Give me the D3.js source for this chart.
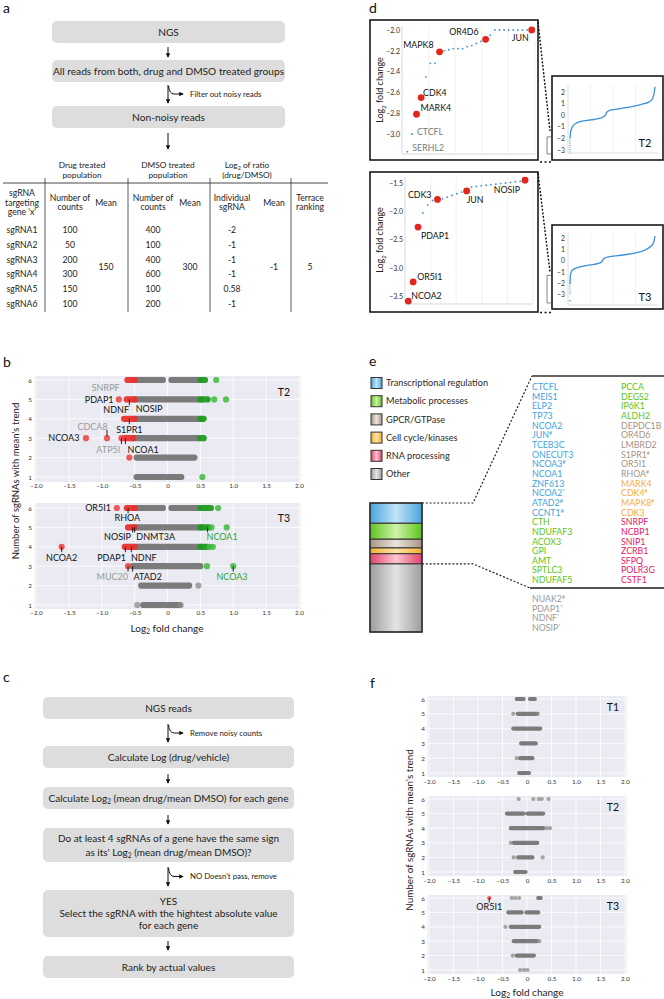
<!DOCTYPE html>
<html><head><meta charset="utf-8">
<script src="https://cdn.jsdelivr.net/npm/d3@7/dist/d3.min.js"></script>
<style>html,body{margin:0;padding:0;background:#fff;}svg{display:block;}</style>
</head><body>
<svg id="fig" width="664" height="999"></svg>
<script>
// ===================== DATA =====================
// ---- panel a ----
const aFlowSteps = ["NGS", "All reads from both, drug and DMSO treated groups", "Non-noisy reads"];
const aFilterNote = "Filter out noisy reads";
const aGroupHeaders = [["Drug treated", "population"], ["DMSO treated", "population"], ["Log_2 of ratio", "(drug/DMSO)"]];
const aColHeaders = [["sgRNA", "targeting", "gene 'x'"], ["Number of", "counts"], ["Mean"], ["Number of", "counts"], ["Mean"], ["Individual", "sgRNA"], ["Mean"], ["Terrace", "ranking"]];
const aSgRNAs = ["sgRNA1", "sgRNA2", "sgRNA3", "sgRNA4", "sgRNA5", "sgRNA6"];
const aDrugCounts = [100, 50, 200, 300, 150, 100];
const aDmsoCounts = [400, 100, 400, 600, 100, 200];
const aLog2Individual = [-2, -1, -1, -1, 0.58, -1];
const aDrugMean = 150, aDmsoMean = 300, aLog2Mean = -1, aTerraceRank = 5;

// ---- panel b (rows = number of sgRNAs with mean's trend; runs = [row, from, to]; dots = [row, value]) ----
const stripXTicks = [-2, -1.5, -1, -0.5, 0, 0.5, 1, 1.5, 2];
const stripRows = [1, 2, 3, 4, 5, 6];
const bT2GrayRuns = [[6, -0.5, -0.07], [6, 0.06, 0.48], [5, -0.5, 0.5], [4, -0.5, 0.5], [3, -0.52, 0.46], [2, -0.47, 0.41], [1, -0.47, 0.21]];
const bT2RedRuns = [[6, -0.61, -0.5], [5, -0.62, -0.5], [4, -0.66, -0.5], [3, -0.65, -0.52]];
const bT2GreenRuns = [[6, 0.5, 0.57], [5, 0.5, 0.61], [4, 0.5, 0.55], [3, 0.5, 0.55]];
const bT2RedDots = [[5, -0.74], [3, -1.24], [3, -0.92], [3, -0.7], [2, -0.58]];
const bT2GreenDots = [[6, 0.74], [5, 0.71], [5, 0.89], [1, 0.53]];
const bT2GrayDots = [];
const bT2Genes = ["SNRPF", "PDAP1", "NDNF", "NOSIP", "S1PR1", "CDCA8", "NCOA3", "ATP5I", "NCOA1"];

const bT3GrayRuns = [[6, -0.5, -0.07], [6, 0.06, 0.48], [5, -0.5, 0.5], [4, -0.5, 0.5], [3, -0.53, 0.5], [2, -0.4, 0.33], [1, -0.37, 0.18]];
const bT3RedRuns = [[6, -0.62, -0.5], [5, -0.6, -0.5], [4, -0.65, -0.5]];
const bT3GreenRuns = [[6, 0.5, 0.66], [5, 0.5, 0.62], [4, 0.5, 0.6]];
const bT3RedDots = [[6, -0.77], [4, -1.61], [3, -0.6]];
const bT3GreenDots = [[6, 0.77], [5, 0.67], [5, 0.9], [4, 0.64], [4, 0.69], [3, 0.6], [3, 1.0]];
const bT3GrayDots = [[2, 0.47], [1, -0.46], [1, 0.2]];
const bT3Genes = ["OR5I1", "RHOA", "NOSIP", "DNMT3A", "NCOA1", "NCOA2", "PDAP1", "NDNF", "MUC20", "ATAD2", "NCOA3"];

// ---- panel c ----
const cFlowSteps = [["NGS reads"], ["Calculate Log (drug/vehicle)"], ["Calculate Log_2 (mean drug/mean DMSO) for each gene"],
  ["Do at least 4 sgRNAs of a gene have the same sign", "as its' Log_2 (mean drug/mean DMSO)?"],
  ["YES", "Select the sgRNA with the hightest absolute value", "for each gene"], ["Rank by actual values"]];
const cSideNotes = ["Remove noisy counts", "NO Doesn't pass, remove"];

// ---- panel d (ranked log2 fold change, lowest genes) ----
const dT2Values = [-3.17, -3.0, -2.81, -2.65, -2.45, -2.32, -2.32, -2.21, -2.2, -2.19, -2.18, -2.18, -2.18, -2.16, -2.15, -2.13, -2.11, -2.09, -2.05, -2.0, -2.0, -2.0, -2.0, -2.0, -2.0, -2.0, -2.0, -2.0];
const dT2LabelIdx = [0, 1, 2, 3, 7, 17, 27];
const dT2LabelNames = ["SERHL2", "CTCFL", "MARK4", "CDK4", "MAPK8", "OR4D6", "JUN"];
const dT2Highlight = [2, 3, 7, 17, 27];
const dT2Ticks = [-2.0, -2.2, -2.4, -2.6, -2.8, -3.0];

const dT3Values = [-3.59, -3.25, -2.28, -2.03, -1.89, -1.81, -1.79, -1.78, -1.75, -1.72, -1.69, -1.66, -1.64, -1.57, -1.56, -1.55, -1.54, -1.53, -1.52, -1.51, -1.5, -1.49, -1.48, -1.47, -1.45];
const dT3LabelIdx = [0, 1, 2, 6, 12, 24];
const dT3LabelNames = ["NCOA2", "OR5I1", "PDAP1", "CDK3", "JUN", "NOSIP"];
const dT3Highlight = [0, 1, 2, 6, 12, 24];
const dT3Ticks = [-1.5, -2.0, -2.5, -3.0, -3.5];

// inset whole-library curves: [rank fraction, log2 fold change]
const dInsetTicks = [2, 1, 0, -1, -2, -3];
const dT2Curve = [[0, -2.0], [0.008, -1.44], [0.032, -0.95], [0.08, -0.66], [0.159, -0.49], [0.278, -0.37], [0.377, -0.2], [0.417, 0.0], [0.437, 0.29], [0.476, 0.43], [0.595, 0.57], [0.714, 0.72], [0.833, 0.92], [0.932, 1.15], [0.972, 1.44], [0.992, 2.0], [1.0, 2.44]];
const dT2Tail = [[0, -3.3], [0, -2.0]];
const dT3Curve = [[0, -2.1], [0.005, -1.28], [0.027, -0.83], [0.098, -0.59], [0.235, -0.38], [0.333, -0.24], [0.373, -0.09], [0.4, 0.21], [0.47, 0.36], [0.627, 0.51], [0.785, 0.71], [0.92, 1.11], [0.98, 1.55], [1.0, 2.2]];
const dT3Tail = [[0, -3.0], [0, -2.1]];
const dT3TailDot = [[0, -3.57]];

// ---- panel e ----
const eCategories = ["Transcriptional regulation", "Metabolic processes", "GPCR/GTPase", "Cell cycle/kinases", "RNA processing", "Other"];
const eTranscriptional = ["CTCFL", "MEIS1", "ELP2", "TP73", "NCOA2", "JUN#", "TCEB3C", "ONECUT3", "NCOA3#", "NCOA1", "ZNF613", "NCOA2*", "ATAD2#", "CCNT1#"];
const eMetabolic = ["CTH", "NDUFAF3", "ACOX3", "GPI", "AMT", "SPTLC3", "NDUFAF5", "PCCA", "DEGS2", "IP6K1", "ALDH2"];
const eGpcr = ["DEPDC1B", "OR4D6", "LMBRD2", "S1PR1#", "OR5I1", "RHOA#"];
const eCellCycle = ["MARK4", "CDK4#", "MAPK8#", "CDK3"];
const eRna = ["SNRPF", "NCBP1", "SNIP1", "ZCRB1", "SFPQ", "POLR3G", "CSTF1"];
const eOtherShown = ["NUAK2#", "PDAP1*", "NDNF*", "NOSIP*"];
const eOtherCount = 47;

// ---- panel f ----
const fT1Runs = [[6, -0.21, -0.07], [6, 0.06, 0.16], [5, -0.19, 0.2], [4, -0.28, 0.27], [3, -0.12, 0.18], [2, -0.14, 0.11], [1, -0.16, 0.04]];
const fT1Dots = [[5, -0.28], [5, 0.22], [2, -0.21]];
const fT2Runs = [[5, -0.41, -0.07], [5, 0.01, 0.33], [4, -0.33, 0.33], [3, -0.27, 0.21], [2, -0.18, 0.11], [1, -0.24, -0.03]];
const fT2Dots = [[6, -0.17], [6, 0.13], [6, 0.24], [6, 0.3], [6, 0.44], [4, 0.4], [4, 0.47], [3, -0.33], [2, -0.27], [2, 0.32]];
const fT3Runs = [[6, 0.23, 0.28], [5, -0.38, -0.11], [5, -0.01, 0.23], [4, -0.33, 0.25], [3, -0.27, 0.2], [2, -0.21, 0.14]];
const fT3Dots = [[6, -0.31], [6, -0.24], [6, -0.16], [4, -0.44], [3, 0.25], [2, -0.29], [1, -0.14], [1, -0.06], [1, 0.01]];
const fT3RedDots = [[6, -0.77]];

// ===================== DRAWING =====================
const FONT = "Lato, 'Open Sans', 'DejaVu Sans', sans-serif";
const svg = d3.select('#fig').attr('font-family', FONT);
const defs = svg.append('defs');
defs.append('marker').attr('id', 'arr').attr('viewBox', '0 0 6 6').attr('refX', 5).attr('refY', 3)
  .attr('markerWidth', 4.5).attr('markerHeight', 4.5).attr('markerUnits', 'userSpaceOnUse').attr('orient', 'auto')
  .append('path').attr('d', 'M0,0 L6,3 L0,6 Z').attr('fill', '#111');

const fmtTick = d => d === 0 ? "0" : d3.format(".1f")(d);

function richText(t, str, fs) {
  const parts = str.split('_2');
  t.append('tspan').text(parts[0]);
  for (let i = 1; i < parts.length; i++) {
    t.append('tspan').attr('dy', fs * 0.28).attr('font-size', fs * 0.66).text('2');
    t.append('tspan').attr('dy', -fs * 0.28).text(parts[i]);
  }
}
function txt(parent, x, y, str, o = {}) {
  const fs = o.fs || 8.5;
  const t = parent.append('text').attr('x', x).attr('y', y + fs * 0.35)
    .attr('text-anchor', o.anchor || 'middle').attr('font-size', fs).attr('fill', o.fill || '#222');
  richText(t, str, fs);
  if (o.rotate) t.attr('transform', `rotate(${o.rotate},${x},${y})`);
  return t;
}
function panelLabel(x, y, s) {
  svg.append('text').attr('x', x).attr('y', y).attr('font-size', 14).attr('fill', '#111').text(s);
}
function arrowDown(g, x, y1, y2) {
  g.append('line').attr('x1', x).attr('x2', x).attr('y1', y1).attr('y2', y2)
    .attr('stroke', '#111').attr('stroke-width', 1).attr('marker-end', 'url(#arr)');
}
function branchArrow(g, x, y1, y2, note, noteX) {
  arrowDown(g, x, y1, y2);
  const yh = y1 + (y2 - y1) * 0.5;
  g.append('path').attr('d', `M${x + 0.5},${y1 + 1} Q${x + 1.5},${yh} ${x + 6},${yh} L${x + 15},${yh}`)
    .attr('fill', 'none').attr('stroke', '#111').attr('stroke-width', 1).attr('marker-end', 'url(#arr)');
  txt(g, noteX, yh, note, { anchor: 'start', fs: 7.8 });
}
function flowBox(g, x0, x1, top, h, lines, fs, lh) {
  g.append('rect').attr('x', x0).attr('y', top).attr('width', x1 - x0).attr('height', h).attr('rx', 5).attr('fill', '#dddddd');
  const cy = top + h / 2;
  lines.forEach((l, i) => txt(g, (x0 + x1) / 2, cy + (i - (lines.length - 1) / 2) * lh, l, { fs: fs }));
}

// ---------- panel a ----------
panelLabel(3, 13, 'a');
{
  const g = svg.append('g');
  const tops = [21, 60, 106];
  aFlowSteps.forEach((s, i) => flowBox(g, 52, 285, tops[i], 22, [s], 10.2, 13));
  arrowDown(g, 168, 47, 57);
  branchArrow(g, 168, 85, 103, aFilterNote, 190);
  arrowDown(g, 168, 133, 149);

  // table
  const colX = [22, 70, 106, 153, 190, 232, 274, 310];
  const groupX = [82, 168, 247];
  const rowY = d3.scalePoint().domain(aSgRNAs).range([230, 304]);
  const fs = 8.6;
  aGroupHeaders.forEach((h, i) => h.forEach((l, j) => txt(g, groupX[i], 165 + j * 10.5, l, { fs: 8.3 })));
  g.append('line').attr('x1', 3).attr('x2', 328).attr('y1', 183).attr('y2', 183).attr('stroke', '#333').attr('stroke-width', 0.9);
  [45, 128, 210, 291].forEach(x => g.append('line').attr('x1', x).attr('x2', x).attr('y1', 178).attr('y2', 312).attr('stroke', '#333').attr('stroke-width', 0.8));
  aColHeaders.forEach((h, i) => {
    const c = 202.5;
    h.forEach((l, j) => txt(g, colX[i], c + (j - (h.length - 1) / 2) * 9.5, l, { fs }));
  });
  aSgRNAs.forEach((s, i) => {
    const y = rowY(s);
    txt(g, colX[0], y, s, { fs });
    txt(g, colX[1], y, String(aDrugCounts[i]), { fs });
    txt(g, colX[3], y, String(aDmsoCounts[i]), { fs });
    txt(g, colX[5], y, String(aLog2Individual[i]), { fs });
  });
  const midY = (rowY(aSgRNAs[2]) + rowY(aSgRNAs[3])) / 2;
  txt(g, colX[2], midY, String(aDrugMean), { fs });
  txt(g, colX[4], midY, String(aDmsoMean), { fs });
  txt(g, colX[6], midY, String(aLog2Mean), { fs });
  txt(g, colX[7], midY, String(aTerraceRank), { fs });
}

// ---------- strip plots (b, f) ----------
function strip(cfg, d) {
  const g = svg.append('g');
  const x = d3.scaleLinear().domain([-2, 2]).range([cfg.xL, cfg.xR]);
  const y = d3.scaleLinear().domain([1, 6]).range([cfg.y1, cfg.y6]);
  g.append('rect').attr('x', cfg.xL - 1.5).attr('y', cfg.top).attr('width', cfg.xR - cfg.xL + 3).attr('height', cfg.bottom - cfg.top).attr('fill', '#eaeaf2');
  g.append('g').selectAll('line').data(stripXTicks).join('line').attr('x1', v => x(v)).attr('x2', v => x(v))
    .attr('y1', cfg.top).attr('y2', cfg.bottom).attr('stroke', '#fff').attr('stroke-width', 0.8);
  g.append('g').selectAll('line').data(stripRows).join('line').attr('y1', v => y(v)).attr('y2', v => y(v))
    .attr('x1', cfg.xL - 1.5).attr('x2', cfg.xR + 1.5).attr('stroke', '#fff').attr('stroke-width', 0.8);
  const ax = g.append('g').attr('transform', `translate(0,${cfg.bottom})`)
    .call(d3.axisBottom(x).tickValues(stripXTicks).tickSize(0).tickPadding(cfg.xpad).tickFormat(fmtTick));
  ax.select('.domain').remove();
  ax.attr('font-family', FONT).attr('font-size', cfg.tfs);
  ax.selectAll('text').attr('fill', '#333');
  const ay = g.append('g').attr('transform', `translate(${cfg.xL - 1.5},0)`)
    .call(d3.axisLeft(y).tickValues(stripRows).tickSize(0).tickPadding(2.5).tickFormat(d3.format('d')));
  ay.select('.domain').remove();
  ay.attr('font-family', FONT).attr('font-size', cfg.tfs);
  ay.selectAll('text').attr('fill', '#333');
  const runs = (arr, col, op) => g.append('g').selectAll('line').data(arr).join('line')
    .attr('x1', r => x(r[1])).attr('x2', r => x(r[2])).attr('y1', r => y(r[0])).attr('y2', r => y(r[0]))
    .attr('stroke', col).attr('stroke-opacity', op).attr('stroke-width', cfg.rw).attr('stroke-linecap', 'round');
  const dots = (arr, col, op) => g.append('g').selectAll('circle').data(arr).join('circle')
    .attr('cx', p => x(p[1])).attr('cy', p => y(p[0])).attr('r', cfg.dr).attr('fill', col).attr('fill-opacity', op);
  runs(d.grayRuns || [], '#7b7b7b', 1);
  dots(d.grayDots || [], '#8a8a8a', 0.75);
  runs(d.redRuns || [], '#e8302c', 0.95);
  runs(d.greenRuns || [], '#1f9b1f', 0.95);
  dots(d.redDots || [], '#f03c3c', 0.85);
  dots(d.greenDots || [], '#3dbb3d', 0.85);
  txt(g, cfg.tX, cfg.tY, cfg.title, { fs: cfg.titleFs, fill: '#111' });
  return { g, x, y };
}
function annotate(p, labels, pointers, fs) {
  pointers.forEach(q => p.g.append('line').attr('x1', p.x(q[0])).attr('x2', p.x(q[0])).attr('y1', p.y(q[1])).attr('y2', p.y(q[2]))
    .attr('stroke', '#111').attr('stroke-width', 0.9));
  labels.forEach(l => txt(p.g, p.x(l.v), p.y(l.r), l.t, { fs: fs, fill: l.c || '#111', anchor: l.a || 'middle' }));
}

panelLabel(3, 367, 'b');
const GRAYT = '#9a9a9a', GREENT = '#2ea52e';
{
  const p2 = strip({ xL: 36, xR: 299, top: 376, bottom: 482, y1: 477, y6: 380, xpad: 2, tfs: 6.3, rw: 6.2, dr: 3.1, title: 'T2', tX: 284, tY: 392, titleFs: 10.5 },
    { grayRuns: bT2GrayRuns, redRuns: bT2RedRuns, greenRuns: bT2GreenRuns, redDots: bT2RedDots, greenDots: bT2GreenDots, grayDots: bT2GrayDots });
  annotate(p2, [
    { t: bT2Genes[0], v: -0.94, r: 5.59, c: GRAYT },
    { t: bT2Genes[1], v: -0.82, r: 5.0, a: 'end' },
    { t: bT2Genes[2], v: -0.78, r: 4.45 },
    { t: bT2Genes[3], v: -0.28, r: 4.53 },
    { t: bT2Genes[4], v: -0.58, r: 3.45 },
    { t: bT2Genes[5], v: -1.14, r: 3.6, c: GRAYT },
    { t: bT2Genes[6], v: -1.34, r: 3.0, a: 'end' },
    { t: bT2Genes[7], v: -0.9, r: 2.4, c: GRAYT },
    { t: bT2Genes[8], v: -0.37, r: 2.4 }
  ], [[-0.58, 5, 4.7], [-0.58, 4, 3.72], [-0.92, 3.42, 3.1], [-0.7, 3, 2.7], [-0.64, 3, 2.7]], 9);

  const p3 = strip({ xL: 36, xR: 299, top: 503, bottom: 609, y1: 605, y6: 508, xpad: 2, tfs: 6.3, rw: 6.2, dr: 3.1, title: 'T3', tX: 284, tY: 518, titleFs: 10.5 },
    { grayRuns: bT3GrayRuns, redRuns: bT3RedRuns, greenRuns: bT3GreenRuns, redDots: bT3RedDots, greenDots: bT3GreenDots, grayDots: bT3GrayDots });
  annotate(p3, [
    { t: bT3Genes[0], v: -0.86, r: 6, a: 'end' },
    { t: bT3Genes[1], v: -0.61, r: 5.48 },
    { t: bT3Genes[2], v: -0.76, r: 4.5 },
    { t: bT3Genes[3], v: -0.18, r: 4.5 },
    { t: bT3Genes[4], v: 0.83, r: 4.5, c: GREENT },
    { t: bT3Genes[5], v: -1.61, r: 3.42 },
    { t: bT3Genes[6], v: -0.85, r: 3.42 },
    { t: bT3Genes[7], v: -0.36, r: 3.42 },
    { t: bT3Genes[8], v: -0.84, r: 2.45, c: GRAYT },
    { t: bT3Genes[9], v: -0.3, r: 2.45 },
    { t: bT3Genes[10], v: 0.98, r: 2.45, c: GREENT }
  ], [[-0.6, 6, 5.72], [-0.53, 5, 4.74], [-0.5, 5, 4.74], [0.61, 5, 4.74], [-1.61, 4, 3.72], [-0.64, 4, 3.72], [-0.55, 4, 3.72], [-0.6, 3, 2.72], [-0.53, 3, 2.72], [1.0, 3, 2.72]], 9);
  txt(svg, 167, 628, 'Log_2 fold change', { fs: 10 });
  txt(svg, 16, 481, "Number of sgRNAs with mean's trend", { fs: 9.5, rotate: -90 });
}

// ---------- panel c ----------
panelLabel(3, 682, 'c');
{
  const g = svg.append('g');
  const tops = [697, 746, 787, 828, 890, 956];
  const hs = [22, 22, 22, 34, 47, 22];
  const lhs = [13, 13, 13, 14, 12, 13];
  cFlowSteps.forEach((s, i) => flowBox(g, 43, 294, tops[i], hs[i], s, 10, lhs[i]));
  branchArrow(g, 168, 724, 742, cSideNotes[0], 190);
  arrowDown(g, 168, 774, 783);
  arrowDown(g, 168, 815, 824);
  branchArrow(g, 168, 867, 886, cSideNotes[1], 190);
  arrowDown(g, 168, 941, 950);
}

// ---------- panel d ----------
panelLabel(369, 13, 'd');
function rankPanel(cfg) {
  const g = svg.append('g');
  g.append('rect').attr('x', cfg.box[0]).attr('y', cfg.box[1]).attr('width', cfg.box[2] - cfg.box[0]).attr('height', cfg.box[3] - cfg.box[1])
    .attr('fill', '#fff').attr('stroke', '#1a1a1a').attr('stroke-width', 1.6);
  const x = d3.scaleLinear().domain([0, cfg.values.length - 1]).range(cfg.xr);
  const y = d3.scaleLinear().domain(cfg.yDom).range(cfg.yr);
  const [px0, px1, py0, py1] = cfg.plot;
  g.append('g').selectAll('line').data(d3.range(1, 6)).join('line')
    .attr('x1', i => px0 + i * (px1 - px0) / 5).attr('x2', i => px0 + i * (px1 - px0) / 5).attr('y1', py0).attr('y2', py1)
    .attr('stroke', '#eeeeee').attr('stroke-width', 0.8);
  g.append('line').attr('x1', px0).attr('x2', px0).attr('y1', py0).attr('y2', py1).attr('stroke', '#cfcfcf').attr('stroke-width', 0.8);
  g.append('line').attr('x1', px0).attr('x2', px1).attr('y1', py1).attr('y2', py1).attr('stroke', '#cfcfcf').attr('stroke-width', 0.8);
  const ay = g.append('g').attr('transform', `translate(${px0},0)`)
    .call(d3.axisLeft(y).tickValues(cfg.ticks).tickSize(0).tickPadding(2).tickFormat(d3.format('.1f')));
  ay.select('.domain').remove();
  ay.attr('font-family', FONT).attr('font-size', 7);
  ay.selectAll('text').attr('fill', '#333');
  const pts = cfg.values.map((v, i) => ({ i, v, hi: cfg.highlight.includes(i) }));
  g.append('g').selectAll('circle').data(pts.filter(p => !p.hi)).join('circle')
    .attr('cx', p => x(p.i)).attr('cy', p => y(p.v)).attr('r', 0.9).attr('fill', '#3a8fd8');
  g.append('g').selectAll('circle').data(pts.filter(p => p.hi)).join('circle')
    .attr('cx', p => x(p.i)).attr('cy', p => y(p.v)).attr('r', 3.4).attr('fill', '#e1261c');
  cfg.labelIdx.forEach((idx, k) => {
    const L = cfg.labelLayout[k];
    txt(g, x(idx) + L[0], y(cfg.values[idx]) + L[1], cfg.labelNames[k], { fs: 8.8, anchor: L[2], fill: L[3] || '#111' });
  });
  txt(g, 380, cfg.titleY, 'Log_2 fold change', { fs: 9, rotate: -90 });
  return { x, y };
}
function insetPanel(cfg) {
  const g = svg.append('g');
  g.append('rect').attr('x', cfg.box[0]).attr('y', cfg.box[1]).attr('width', cfg.box[2] - cfg.box[0]).attr('height', cfg.box[3] - cfg.box[1])
    .attr('fill', '#fff').attr('stroke', '#1a1a1a').attr('stroke-width', 1.6);
  const x = d3.scaleLinear().domain([0, 1]).range([570, 655]);
  const y = d3.scaleLinear().domain([-3, 2]).range(cfg.yr);
  const [px0, px1, py0, py1] = cfg.plot;
  g.append('g').selectAll('line').data(d3.range(1, 4)).join('line')
    .attr('x1', i => px0 + i * (px1 - px0) / 4).attr('x2', i => px0 + i * (px1 - px0) / 4).attr('y1', py0).attr('y2', py1)
    .attr('stroke', '#efefef').attr('stroke-width', 0.8);
  g.append('line').attr('x1', px0).attr('x2', px0).attr('y1', py0).attr('y2', py1).attr('stroke', '#d5d5d5').attr('stroke-width', 0.8);
  g.append('line').attr('x1', px0).attr('x2', px1).attr('y1', py1).attr('y2', py1).attr('stroke', '#d5d5d5').attr('stroke-width', 0.8);
  const ay = g.append('g').attr('transform', `translate(${px0},0)`)
    .call(d3.axisLeft(y).tickValues(dInsetTicks).tickSize(0).tickPadding(3).tickFormat(d3.format('d')));
  ay.select('.domain').remove();
  ay.attr('font-family', FONT).attr('font-size', 6.8);
  ay.selectAll('text').attr('fill', '#333');
  const line = d3.line().x(p => x(p[0])).y(p => y(p[1]));
  g.append('path').attr('d', line.curve(d3.curveMonotoneX)(cfg.curve)).attr('fill', 'none').attr('stroke', '#3a8fd8').attr('stroke-width', 1.3);
  g.append('path').attr('d', d3.line().x(p => x(p[0])).y(p => y(p[1]))(cfg.tail)).attr('fill', 'none').attr('stroke', '#3a8fd8')
    .attr('stroke-width', 1.1).attr('stroke-dasharray', '0.8,1.1');
  (cfg.tailDots || []).forEach(p => g.append('circle').attr('cx', x(p[0])).attr('cy', y(p[1])).attr('r', 0.8).attr('fill', '#3a8fd8'));
  const ext = d3.extent(cfg.zoomValues);
  const b0 = y(ext[1]) - 1.5, b1 = y(ext[0]) + 2;
  g.append('path').attr('d', `M551,${b0} L547,${b0} L547,${b1} L551,${b1}`).attr('fill', 'none').attr('stroke', '#777').attr('stroke-width', 0.9);
  txt(g, 645, cfg.titleY, cfg.title, { fs: 11, fill: '#111' });
  g.append('line').attr('x1', 538).attr('y1', cfg.conn[0]).attr('x2', 550).attr('y2', cfg.conn[1])
    .attr('stroke', '#111').attr('stroke-width', 1.4).attr('stroke-dasharray', '2,1.6');
  g.append('line').attr('x1', 540).attr('y1', cfg.conn[2]).attr('x2', 552).attr('y2', cfg.conn[2])
    .attr('stroke', '#111').attr('stroke-width', 1.4).attr('stroke-dasharray', '2,2.5');
}
rankPanel({
  box: [370, 20, 538, 160], plot: [402, 535, 26, 154], xr: [407.3, 531.7], yDom: [-2, -3], yr: [30, 134],
  values: dT2Values, highlight: dT2Highlight, ticks: dT2Ticks, labelIdx: dT2LabelIdx, labelNames: dT2LabelNames,
  labelLayout: [[5, -4, 'start', '#777'], [5, -2, 'start', '#777'], [4, -6, 'start'], [2, -5, 'start'], [-6, -7, 'end'], [-7, -7, 'end'], [-3, 8, 'end']],
  titleY: 90
});
insetPanel({ box: [552, 76, 663, 160], plot: [568, 658, 85, 153], yr: [150, 92], curve: dT2Curve, tail: dT2Tail, zoomValues: dT2Values, title: 'T2', titleY: 143, conn: [22, 131, 162] });
rankPanel({
  box: [370, 172, 538, 312], plot: [405, 533, 177, 304], xr: [408.3, 525], yDom: [-1.5, -3.5], yr: [183, 296],
  values: dT3Values, highlight: dT3Highlight, ticks: dT3Ticks, labelIdx: dT3LabelIdx, labelNames: dT3LabelNames,
  labelLayout: [[3, -5, 'start'], [4, -5, 'start'], [3, 9, 'start'], [-6, -4, 'end'], [0, 9, 'start'], [-5, 10, 'end']],
  titleY: 240
});
insetPanel({ box: [552, 225, 663, 309], plot: [568, 658, 233, 305], yr: [294.3, 238.3], curve: dT3Curve, tail: dT3Tail, tailDots: dT3TailDot, zoomValues: dT3Values, title: 'T3', titleY: 297, conn: [173, 272, 312.5] });

// ---------- panel e ----------
panelLabel(369, 366, 'e');
{
  const g = svg.append('g');
  const edge = ['#48a5dd', '#5ec31c', '#a89585', '#f6ae2c', '#e2406a', '#9d9d9d'];
  const center = ['#c2e4f7', '#d0f2aa', '#ebe4dc', '#ffe4a8', '#fcc6d1', '#e4e4e4'];
  const textCol = ['#3ea3de', '#5cc414', '#a59282', '#f7ad38', '#e6186a'];
  eCategories.forEach((c, i) => {
    const lg = defs.append('linearGradient').attr('id', 'eg' + i).attr('x1', 0).attr('x2', 1).attr('y1', 0).attr('y2', 0);
    lg.append('stop').attr('offset', 0).attr('stop-color', edge[i]);
    lg.append('stop').attr('offset', 0.5).attr('stop-color', center[i]);
    lg.append('stop').attr('offset', 1).attr('stop-color', edge[i]);
  });
  const legY = d3.scalePoint().domain(eCategories).range([383, 474]);
  eCategories.forEach((c, i) => {
    g.append('rect').attr('x', 371).attr('y', legY(c) - 5.5).attr('width', 11).attr('height', 11)
      .attr('fill', `url(#eg${i})`).attr('stroke', '#333').attr('stroke-width', 1);
    txt(g, 386, legY(c), c, { fs: 9.2, anchor: 'start', fill: '#2a2a2a' });
  });
  const groups = [eTranscriptional, eMetabolic, eGpcr, eCellCycle, eRna];
  const counts = groups.map(a => a.length).concat([eOtherCount]);
  const total = d3.sum(counts);
  const cum = [0].concat(Array.from(d3.cumsum(counts)));
  const yb = d3.scaleLinear().domain([0, total]).range([503, 632]);
  counts.forEach((n, i) => {
    g.append('rect').attr('x', 370).attr('y', yb(cum[i])).attr('width', 52).attr('height', yb(cum[i + 1]) - yb(cum[i]))
      .attr('fill', `url(#eg${i})`).attr('stroke', '#3a3a3a').attr('stroke-width', 1.1);
  });
  g.append('rect').attr('x', 370).attr('y', yb(0)).attr('width', 52).attr('height', yb(total) - yb(0))
    .attr('fill', 'none').attr('stroke', '#333').attr('stroke-width', 1.5);
  const shown = cum[5];
  g.append('path').attr('d', `M422,${yb(0)} L473,${yb(0)} L532,376`).attr('fill', 'none').attr('stroke', '#222').attr('stroke-width', 1.2).attr('stroke-dasharray', '2,1.8');
  g.append('path').attr('d', `M422,${yb(shown)} L473,${yb(shown)} L530,588`).attr('fill', 'none').attr('stroke', '#222').attr('stroke-width', 1.2).attr('stroke-dasharray', '2,1.8');
  g.append('line').attr('x1', 532).attr('x2', 664).attr('y1', 376).attr('y2', 376).attr('stroke', '#333').attr('stroke-width', 1.5);
  g.append('line').attr('x1', 530).attr('x2', 664).attr('y1', 588).attr('y2', 588).attr('stroke', '#555').attr('stroke-width', 2);
  const genes = [];
  groups.forEach((a, gi) => a.forEach(n => genes.push({ n, gi })));
  const perCol = Math.ceil(genes.length / 2);
  const yl = d3.scaleLinear().domain([0, perCol - 1]).range([387, 580]);
  const geneText = (x, y, name, col) => {
    const m = name.match(/^(.*?)([#*])?$/);
    const t = g.append('text').attr('x', x).attr('y', y + 3.1).attr('font-size', 8.8).attr('fill', col);
    t.append('tspan').text(m[1]);
    if (m[2]) t.append('tspan').attr('dy', -3).attr('font-size', 5.2).text(m[2]);
  };
  genes.forEach((d, i) => {
    const col = Math.floor(i / perCol), row = i % perCol;
    geneText(col === 0 ? 532 : 621, yl(row), d.n, textCol[d.gi]);
  });
  eOtherShown.forEach((n, i) => geneText(532, 599 + i * 9.5, n, '#9a9a9a'));
}

// ---------- panel f ----------
panelLabel(370, 688, 'f');
{
  const base = { xL: 429, xR: 625, xpad: 3, tfs: 6.3, rw: 4.2, dr: 2.1, tX: 613, titleFs: 10.5 };
  strip(Object.assign({}, base, { top: 696, bottom: 777, y1: 773, y6: 699, title: 'T1', tY: 707 }), { grayRuns: fT1Runs, grayDots: fT1Dots });
  strip(Object.assign({}, base, { top: 796, bottom: 876, y1: 872, y6: 799, title: 'T2', tY: 807 }), { grayRuns: fT2Runs, grayDots: fT2Dots });
  const p = strip(Object.assign({}, base, { top: 895, bottom: 974, y1: 970, y6: 898, title: 'T3', tY: 906 }), { grayRuns: fT3Runs, grayDots: fT3Dots, redDots: fT3RedDots });
  annotate(p, [{ t: 'OR5I1', v: -0.77, r: 5.38 }], [[-0.77, 6, 5.68]], 9);
  txt(svg, 527, 992, 'Log_2 fold change', { fs: 10 });
  txt(svg, 410, 830, "Number of sgRNAs with mean's trend", { fs: 9.8, rotate: -90 });
}
</script>
</body></html>
